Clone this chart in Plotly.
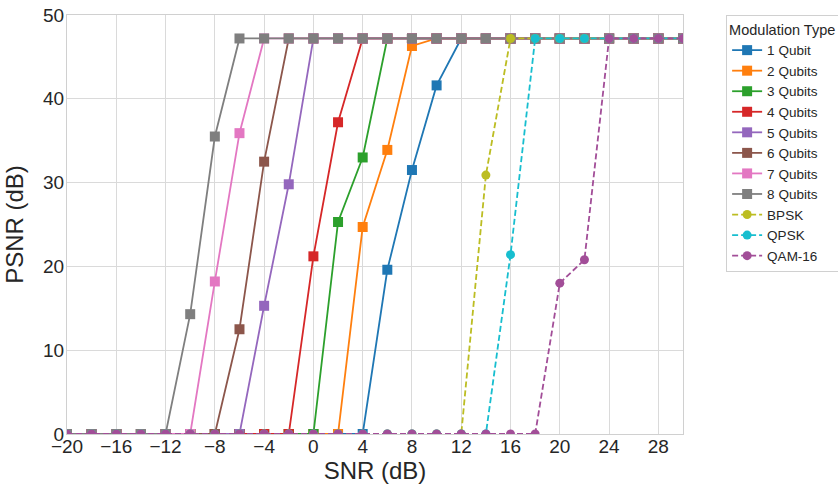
import plotly.graph_objects as go

snr = list(range(-20, 31, 2))

names = ["1 Qubit", "2 Qubits", "3 Qubits", "4 Qubits", "5 Qubits", "6 Qubits",
         "7 Qubits", "8 Qubits", "BPSK", "QPSK", "QAM-16"]

M = 47.2
def row(nonzero, start_snr):
    # zeros before the first read value, then the read values, then the plateau
    vals = []
    for s in snr:
        if s < start_snr:
            vals.append(0.0)
        else:
            i = (s - start_snr) // 2
            vals.append(nonzero[i] if i < len(nonzero) else M)
    return vals

q1 = row([19.6, 31.5, 41.6], 6)
q2 = row([24.7, 33.9, 46.3], 4)
q3 = row([25.3, 33.0], 2)
q4 = row([21.2, 37.2], 0)
q5 = row([15.3, 29.8], -4)
q6 = row([12.5, 32.5], -6)
q7 = row([18.2, 35.9], -8)
q8 = row([14.3, 35.5], -10)
bpsk = row([30.9], 14)
qpsk = row([21.4], 16)
qam16 = row([18.0, 20.8], 20)

series = [q1, q2, q3, q4, q5, q6, q7, q8, bpsk, qpsk, qam16]
colors = ["#1f77b4", "#ff7f0e", "#2ca02c", "#d62728", "#9467bd", "#8c564b",
          "#e377c2", "#7f7f7f", "#bcbd22", "#17becf", "#a24e98"]

fig = go.Figure()
for i, (n, ys, c) in enumerate(zip(names, series, colors)):
    dashed = i >= 8
    fig.add_trace(go.Scatter(
        x=snr, y=ys, name=n, mode="lines+markers",
        line=dict(color=c, width=1.8, dash="6px,3px" if dashed else "solid"),
        marker=dict(color=c, size=9 if dashed else 10,
                    symbol="circle" if dashed else "square"),
    ))

FONT = "Liberation Sans, Arial"
axis_common = dict(
    showgrid=True, gridcolor="#dadada", gridwidth=1,
    showline=True, linecolor="#d0d0d0", linewidth=1, mirror=True,
    zeroline=False, ticks="",
    tickfont=dict(family=FONT, size=19, color="#262626"),
)
fig.update_xaxes(range=[-20, 30], tickmode="array", tickvals=list(range(-20, 29, 4)),
                 ticklabelstandoff=-5,
                 title=dict(text="SNR (dB)", font=dict(family=FONT, size=24, color="#262626"), standoff=0),
                 **axis_common)
fig.update_yaxes(range=[0, 50], tickmode="array", tickvals=[0, 10, 20, 30, 40, 50],
                 ticklabelstandoff=-2,
                 title=dict(text="PSNR (dB)", font=dict(family=FONT, size=24, color="#262626"), standoff=12),
                 **axis_common)

fig.update_layout(
    width=838, height=486,
    margin=dict(l=67, r=155, t=15, b=52, autoexpand=False),
    plot_bgcolor="white", paper_bgcolor="white",
    font=dict(family=FONT, color="#262626"),
    legend=dict(
        title=dict(text="Modulation Type", font=dict(size=14.5)),
        font=dict(size=13.5),
        x=1.07, xanchor="left", y=1.0, yanchor="top",
        bordercolor="#d0d0d0", borderwidth=1, bgcolor="white",
        tracegroupgap=0, itemwidth=30,
    ),
)

fig.write_html("out.html", config={"displayModeBar": False})
with open("out.html", "r", encoding="utf-8") as f:
    html = f.read()
html = html.replace("<head>", "<head><style>html,body{margin:0;padding:0;overflow:hidden;}</style>", 1)
with open("out.html", "w", encoding="utf-8") as f:
    f.write(html)
